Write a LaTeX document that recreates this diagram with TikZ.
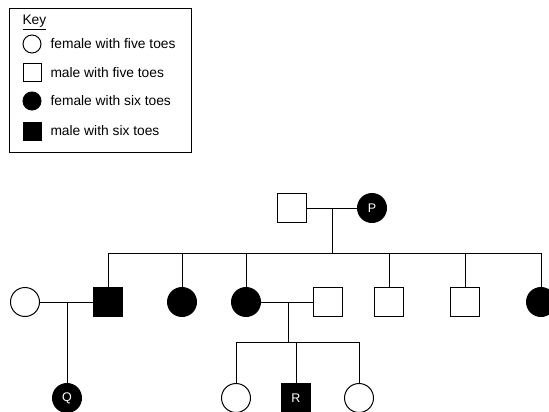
\documentclass[tikz,border=0pt]{standalone}
\usepackage{fontspec}
\setmainfont{Liberation Sans}
\begin{document}
\begin{tikzpicture}[x=1pt,y=-1pt,line width=1pt,
  fem/.style={circle,draw,minimum size=29pt,inner sep=0pt},
  mal/.style={rectangle,draw,minimum size=29pt,inner sep=0pt},
  aff/.style={fill=black,text=white,font=\fontsize{12.5}{12.5}\selectfont},
  kfem/.style={circle,draw,minimum size=18pt,inner sep=0pt},
  kmal/.style={rectangle,draw,minimum size=18pt,inner sep=0pt},
  ktext/.style={anchor=west,inner sep=0pt,font=\fontsize{13.8}{14}\selectfont},
  line/.style={line width=1pt}]
\useasboundingbox (0,0) rectangle (549,412);
% key
\node[draw,line width=1pt,minimum width=182pt,minimum height=144pt,inner sep=0pt,anchor=north west] (keybox) at (9,8) {};
\node[anchor=base west,inner sep=0pt,font=\fontsize{13.8}{14}\selectfont] (keyt) at (22,25) {\underline{Key}};
\node[kfem] (k1) at (32,44) {};
\node[kmal] (k2) at (32,73) {};
\node[kfem,fill=black] (k3) at (32,101) {};
\node[kmal,fill=black] (k4) at (32,131) {};
\node[ktext] (t1) at (50,44) {female with five toes};
\node[ktext] (t2) at (50,73) {male with five toes};
\node[ktext] (t3) at (50,101) {female with six toes};
\node[ktext] (t4) at (50,131) {male with six toes};
% generation I
\node[mal] (gf) at (292,208) {};
\node[fem,aff] (P) at (372,208) {P};
% generation II
\node[fem] (w0) at (25,302) {};
\node[mal,aff] (c1) at (108,302) {};
\node[fem,aff] (c2) at (182,302) {};
\node[fem,aff] (c3) at (246,302) {};
\node[mal] (h3) at (328,302) {};
\node[mal] (c4) at (389,302) {};
\node[mal] (c5) at (465,302) {};
\node[fem,aff] (c6) at (541,302) {};
% generation III
\node[fem,aff] (Q) at (67,398) {Q};
\node[fem] (g1) at (236,398) {};
\node[mal,aff] (R) at (296,398) {R};
\node[fem] (g3) at (359,398) {};
% connectors
\coordinate (m1) at (332,208);
\coordinate (b1) at (332,253);
\coordinate (bl) at (108,253);
\coordinate (br) at (541,253);
\draw[line] (gf) -- (P);
\draw[line] (m1) -- (b1);
\draw[line] (bl) -- (br);
\foreach \n in {c1,c2,c3,c4,c5,c6} \draw[line] (\n.north) -- (\n.north |- bl);
\coordinate (m2) at (67,302);
\draw[line] (w0) -- (c1);
\draw[line] (m2) -- (Q);
\coordinate (m3) at (288,302);
\coordinate (b3) at (288,342);
\draw[line] (c3) -- (h3);
\draw[line] (m3) -- (b3);
\draw[line] (g1.north |- b3) -- (g3.north |- b3);
\foreach \n in {g1,R,g3} \draw[line] (\n.north) -- (\n.north |- b3);
\end{tikzpicture}
\end{document}
